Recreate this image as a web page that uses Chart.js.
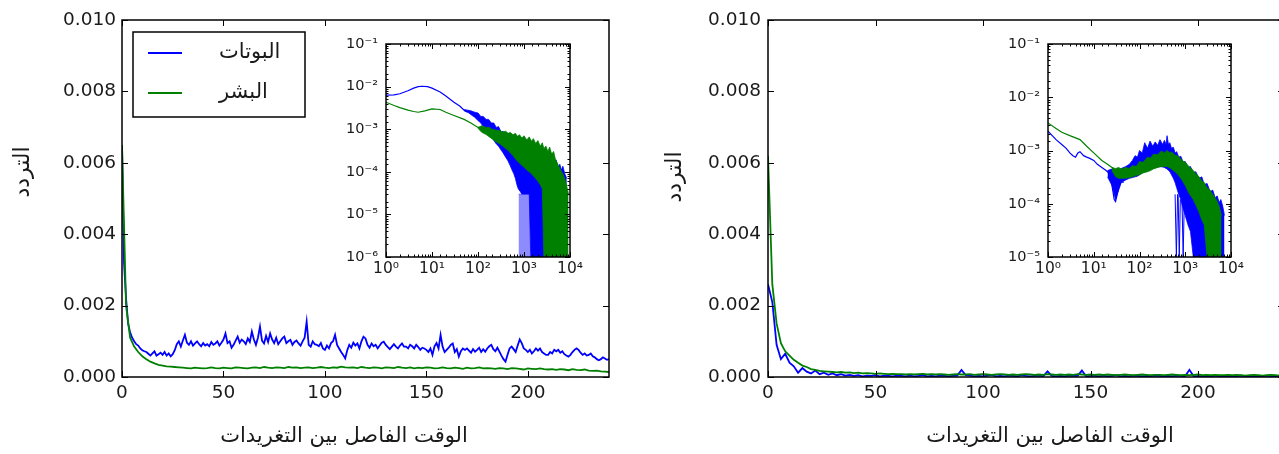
<!DOCTYPE html>
<html>
<head>
<meta charset="utf-8">
<script src="https://cdn.jsdelivr.net/npm/chart.js@4.4.1/dist/chart.umd.min.js"></script>
<style>
  body { margin: 0; background: #fff; overflow: hidden; }
  #wrap { position: relative; width: 1279px; height: 454px; overflow: hidden; }
  canvas { position: absolute; }
</style>
</head>
<body>
<div id="wrap">
  <canvas id="mainLeft" width="640" height="454" style="left:0;top:0"></canvas>
  <canvas id="mainRight" width="660" height="454" style="left:640px;top:0"></canvas>
  <canvas id="insetLeft" width="260" height="270" style="left:330px;top:20px"></canvas>
  <canvas id="insetRight" width="260" height="270" style="left:990px;top:20px"></canvas>
</div>
<script>
// labels
const botsLabel = 'البوتات';
const humansLabel = 'البشر';
const xTitle = 'الوقت الفاصل بين التغريدات';
const yTitle = 'التردد';

// main panels: frequency per bin (bin width 1 for left bots, 2 for the rest)
const leftBots = [
  0.0065, 0.0032, 0.0022, 0.0015, 0.00125, 0.0011, 0.001, 0.00092, 0.00088, 0.0008,
  0.00075, 0.00072, 0.0007, 0.00065, 0.0006, 0.00066, 0.00072, 0.0006, 0.00064, 0.00068,
  0.00062, 0.0007, 0.0006, 0.00066, 0.00058, 0.00064, 0.00075, 0.00092, 0.001, 0.00085,
  0.00102, 0.00118, 0.00096, 0.0009, 0.001, 0.00088, 0.00094, 0.001, 0.00092, 0.00086,
  0.00095, 0.00088, 0.00092, 0.00086, 0.00098, 0.0009, 0.00094, 0.001, 0.00088, 0.00096,
  0.00105, 0.00122, 0.00095, 0.001, 0.00082, 0.0009, 0.00102, 0.00113, 0.00096, 0.00105,
  0.001, 0.00092, 0.00108, 0.00098, 0.00127, 0.00105, 0.0009, 0.0011, 0.00141, 0.00102,
  0.00094, 0.00115, 0.00098, 0.00122, 0.00105, 0.00095, 0.0011, 0.00092, 0.001, 0.00108,
  0.00113, 0.00095, 0.001, 0.00104, 0.0009, 0.00098, 0.00102, 0.00094, 0.00088, 0.001,
  0.0011, 0.00155, 0.0009, 0.00085, 0.001, 0.00092, 0.0009, 0.00086, 0.00095, 0.0008,
  0.00076, 0.00088, 0.0008, 0.00095, 0.001, 0.00118, 0.0009, 0.0008, 0.0007, 0.00062,
  0.00052, 0.00075, 0.0009, 0.00082, 0.00096, 0.00088, 0.00094, 0.0008, 0.001, 0.00113,
  0.00108, 0.0009, 0.00082, 0.00094, 0.00086, 0.0009, 0.0008, 0.00088, 0.00096, 0.00099,
  0.0009, 0.00084, 0.00078, 0.00085, 0.00092, 0.00085, 0.0008, 0.00088, 0.00094, 0.00085,
  0.00085, 0.0008, 0.0009, 0.00086, 0.0008, 0.0009, 0.00084, 0.00076, 0.00082, 0.0008,
  0.00076, 0.0007, 0.0008, 0.00062, 0.00086, 0.00095, 0.0008, 0.00118, 0.00085, 0.0007,
  0.00076, 0.00082, 0.0009, 0.00094, 0.0007, 0.00078, 0.00057, 0.00072, 0.0008, 0.00076,
  0.0008, 0.00074, 0.00068, 0.00078, 0.00071, 0.00076, 0.00082, 0.0007, 0.00078, 0.00071,
  0.0008, 0.00086, 0.0009, 0.00078, 0.00072, 0.00082, 0.00071, 0.0006, 0.0005, 0.00043,
  0.00062, 0.0008, 0.00085, 0.00078, 0.0007, 0.00088, 0.00105, 0.00095, 0.0008, 0.00076,
  0.0007, 0.00076, 0.00066, 0.00072, 0.0008, 0.00074, 0.0008, 0.0007, 0.00066, 0.00062,
  0.00062, 0.0007, 0.00066, 0.00076, 0.00072, 0.00076, 0.00068, 0.00072, 0.00064, 0.0006,
  0.00057, 0.00062, 0.0007, 0.00076, 0.0008, 0.00076, 0.00068, 0.00062, 0.00066, 0.0006,
  0.00062, 0.00066, 0.00058, 0.00055, 0.0005, 0.00047, 0.0005, 0.00055, 0.00052, 0.00048,
  0.0005
];
const leftHumans = [
  0.0065, 0.002, 0.0011, 0.00085, 0.0007, 0.00058, 0.0005, 0.00043, 0.00038, 0.00034, 0.00032, 0.0003, 0.00029, 0.00028, 0.00027, 0.00026,
  0.00025, 0.00024, 0.00026, 0.00025, 0.00024, 0.00025, 0.00027, 0.00025, 0.00024, 0.00026, 0.00025, 0.00024, 0.00027, 0.00026, 0.00025,
  0.00024, 0.00026, 0.00027, 0.00025, 0.00028, 0.00026, 0.00025, 0.00027, 0.00026, 0.00025, 0.00028, 0.00026, 0.00027, 0.00025, 0.00026,
  0.00027, 0.00025, 0.00026, 0.00028, 0.00026, 0.00025, 0.00027, 0.00026, 0.00029, 0.00027, 0.00026, 0.00027, 0.00025, 0.00028, 0.00026,
  0.00025, 0.00027, 0.00026, 0.00024, 0.00027, 0.00026, 0.00025, 0.00028, 0.00026, 0.00025, 0.00027, 0.00024, 0.00026, 0.00025, 0.00027,
  0.00026, 0.00024, 0.00025, 0.00027, 0.00025, 0.00024, 0.00026, 0.00025, 0.00023, 0.00026, 0.00024, 0.00025, 0.00027, 0.00024, 0.00025,
  0.00024, 0.00023, 0.00025, 0.00024, 0.00022, 0.00025, 0.00024, 0.00023, 0.00021, 0.00024, 0.00023, 0.00022, 0.00024, 0.00022, 0.00021,
  0.00022, 0.0002, 0.00022, 0.00021, 0.00019, 0.00022, 0.0002, 0.00019, 0.00021, 0.00018, 0.00017, 0.00018, 0.00016, 0.00015, 0.00014
];
const rightBots = [
  0.0026, 0.0021, 0.0009, 0.0005, 0.00065, 0.0004, 0.0003, 0.00012, 0.00025, 0.00015, 0.0001, 0.00018, 0.00008, 0.00012, 0.00006, 0.0001,
  0.00005, 0.00008, 0.00004, 0.00006, 0.00003, 0.00005, 0.00002, 0.00004, 0.00003, 0.00005, 0.00002, 0.00004, 0.00003, 0.00002, 0.00004,
  0.00003, 0.00002, 0.00004, 0.00002, 0.00003, 0.00005, 0.00002, 0.00003, 0.00002, 0.00004, 0.00003, 0.00002, 0.00003, 0.00004, 0.0002,
  0.00005, 0.00004, 0.00002, 0.00003, 0.00002, 0.00004, 0.00006, 0.00002, 0.00003, 0.00002, 0.00004, 0.00003, 0.00002, 0.00005, 0.00003,
  0.00002, 0.00003, 0.00004, 0.00002, 0.00016, 0.00003, 0.00002, 0.00003, 0.00002, 0.00004, 0.00003, 0.00003, 0.00018, 0.00002, 0.00003,
  0.00003, 0.00002, 0.00004, 0.00002, 0.00003, 0.00005, 0.00002, 0.00003, 0.00002, 0.00004, 0.00003, 0.00002, 0.00003, 0.00002, 0.00004,
  0.00003, 0.00002, 0.00003, 0.00002, 0.00004, 0.00003, 0.00002, 0.0002, 0.00002, 0.00003, 0.00002, 0.00003, 0.00002, 0.00004, 0.00002,
  0.00003, 0.00002, 0.00003, 0.00002, 0.00004, 0.00002, 0.00003, 0.00002, 0.00003, 0.00002, 0.00004, 0.00002, 0.00003, 0.00002, 0.00003
];
const rightHumans = [
  0.0062, 0.0026, 0.0015, 0.00095, 0.00072, 0.0006, 0.00048, 0.0004, 0.00032, 0.00028, 0.00022, 0.0002, 0.00017, 0.00016, 0.00015, 0.00014,
  0.00013, 0.00014, 0.00012, 0.00013, 0.00011, 0.00012, 0.0001, 0.00011, 0.0001, 0.00009, 0.0001, 0.00009, 0.00008, 0.00009, 0.00008,
  0.00008, 0.00007, 0.00008, 0.00007, 0.00008, 0.00009, 0.00007, 0.00008, 0.00007, 0.00008, 0.00007, 0.00006, 0.00007, 0.00008, 0.00007,
  0.00007, 0.00008, 0.00006, 0.00007, 0.00008, 0.00007, 0.00006, 0.00007, 0.00008, 0.00007, 0.00006, 0.00007, 0.00006, 0.00007, 0.00008,
  0.00007, 0.00006, 0.00007, 0.00006, 0.00008, 0.00007, 0.00006, 0.00007, 0.00006, 0.00007, 0.00006, 0.00008, 0.00007, 0.00006, 0.00007,
  0.00006, 0.00007, 0.00006, 0.00007, 0.00006, 0.00005, 0.00006, 0.00007, 0.00006, 0.00005, 0.00006, 0.00007, 0.00006, 0.00005, 0.00006,
  0.00006, 0.00005, 0.00006, 0.00007, 0.00006, 0.00005, 0.00006, 0.00005, 0.00006, 0.00007, 0.00005, 0.00006, 0.00005, 0.00006, 0.00005,
  0.00005, 0.00006, 0.00005, 0.00006, 0.00005, 0.00004, 0.00005, 0.00006, 0.00005, 0.00004, 0.00005, 0.00006, 0.00005, 0.00004, 0.00005
];

// left inset (log-log): thin line at short gaps, noisy band further out
const insetLeftBotsLineX = [1, 1.5, 2, 3, 4, 5, 6, 8, 10, 15, 20, 30, 40, 50, 60];
const insetLeftBotsLineY = [6.3e-3, 6.4e-3, 6.8e-3, 8e-3, 9.2e-3, 1e-2, 1.02e-2, 1e-2, 9.2e-3, 7.5e-3, 6e-3, 4.3e-3, 3.5e-3, 2.8e-3, 2.5e-3];
const insetLeftBotsBandX = [50, 60, 70, 85, 100, 115, 130, 150, 170, 195, 220, 250, 280, 320, 350, 400, 450, 500, 550, 600, 650, 700, 750, 820, 900, 1000, 1100, 1200, 1300, 1400, 1600, 1800, 2000, 2300, 2600, 2900, 3200, 3600, 4000, 4400, 5000, 5500, 6000, 6500, 7000, 7700, 8500];
const insetLeftBotsBandHigh = [2.9e-3, 2.8e-3, 2.7e-3, 2.5e-3, 2.4e-3, 2e-3, 2e-3, 1.7e-3, 1.7e-3, 1.4e-3, 1.4e-3, 1.1e-3, 1.15e-3, 8.5e-4, 9e-4, 6.5e-4, 7e-4, 5e-4, 5.5e-4, 4e-4, 4.8e-4, 3.6e-4, 4.2e-4, 3.2e-4, 3.6e-4, 2.8e-4, 3.2e-4, 2.5e-4, 2.9e-4, 2.3e-4, 2.5e-4, 1.9e-4, 2.2e-4, 1.6e-4, 1.9e-4, 1.4e-4, 1.8e-4, 2.3e-4, 1.3e-4, 1.7e-4, 1.9e-4, 1.2e-4, 1.5e-4, 1.1e-4, 1.35e-4, 9e-5, 7e-5];
const insetLeftBotsBandLow = [2.7e-3, 2.5e-3, 2.2e-3, 1.9e-3, 1.6e-3, 1.4e-3, 1.15e-3, 1e-3, 8.5e-4, 7e-4, 5.5e-4, 4.5e-4, 4e-4, 3.2e-4, 2.8e-4, 2.2e-4, 1.8e-4, 1.4e-4, 1.1e-4, 9e-5, 7e-5, 5e-5, 4e-5, 3.5e-5, 3e-5, 3e-5, 3e-5, 3e-5, 3e-5, 1e-6, 1e-6, 1e-6, 1e-6, 1e-6, 1e-6, 1e-6, 1e-6, 1e-6, 1e-6, 1e-6, 1e-6, 1e-6, 1e-6, 1e-6, 1e-6, 1e-6, 1e-6];
const insetLeftBotsSparseX = [760, 1380];
const insetLeftBotsSparseHigh = [3e-5, 3e-5];
const insetLeftHumansLineX = [1, 1.5, 2, 3, 4, 5, 7, 10, 15, 20, 30, 50, 70, 100, 150];
const insetLeftHumansLineY = [4.3e-3, 3.6e-3, 3.2e-3, 2.8e-3, 2.6e-3, 2.5e-3, 2.7e-3, 3e-3, 2.9e-3, 2.5e-3, 2.1e-3, 1.7e-3, 1.4e-3, 1.1e-3, 1e-3];
const insetLeftHumansBandX = [100, 120, 150, 180, 200, 250, 300, 350, 400, 450, 500, 580, 650, 720, 800, 900, 1000, 1150, 1300, 1450, 1600, 1800, 2000, 2250, 2500, 2700, 3000, 3300, 3600, 4000, 4400, 4800, 5300, 6000, 6600, 7300, 8000, 9300];
const insetLeftHumansBandHigh = [1.1e-3, 1.2e-3, 1.1e-3, 1.1e-3, 1e-3, 9.5e-4, 9.2e-4, 8.6e-4, 9e-4, 8e-4, 8.4e-4, 7.4e-4, 8e-4, 6.8e-4, 7.4e-4, 6.2e-4, 7e-4, 5.6e-4, 6.6e-4, 5.2e-4, 6e-4, 4.6e-4, 5.4e-4, 4e-4, 4.8e-4, 3.5e-4, 4e-4, 3e-4, 3.8e-4, 2.6e-4, 3e-4, 2e-4, 1.6e-4, 1.2e-4, 1e-4, 8e-5, 6e-5, 3e-5];
const insetLeftHumansBandLow = [1.05e-3, 8.5e-4, 7.5e-4, 6.5e-4, 6e-4, 5e-4, 4.5e-4, 4e-4, 3.5e-4, 3.2e-4, 2.8e-4, 2.4e-4, 2e-4, 1.8e-4, 1.6e-4, 1.4e-4, 1.3e-4, 1.1e-4, 1e-4, 9e-5, 8e-5, 7e-5, 6e-5, 5e-5, 4e-5, 1e-6, 1e-6, 1e-6, 1e-6, 1e-6, 1e-6, 1e-6, 1e-6, 1e-6, 1e-6, 1e-6, 1e-6, 1e-6];

// right inset (log-log)
const insetRightBotsLineX = [1, 1.5, 2, 2.5, 3, 3.5, 4, 4.5, 5, 6, 7, 8, 10, 12, 15, 18, 20, 22, 24, 26, 28, 30, 33, 36, 40, 45];
const insetRightBotsLineY = [2.3e-3, 1.6e-3, 1.3e-3, 1.1e-3, 9e-4, 8e-4, 7.5e-4, 9e-4, 9.5e-4, 8e-4, 7.5e-4, 7.2e-4, 6.5e-4, 5.5e-4, 4.8e-4, 4.3e-4, 4e-4, 3.5e-4, 2.8e-4, 1.8e-4, 1.2e-4, 1.1e-4, 1.6e-4, 2.2e-4, 2.6e-4, 2.5e-4];
const insetRightBotsBandX = [20, 25, 30, 35, 40, 50, 60, 70, 80, 90, 100, 115, 130, 150, 170, 195, 220, 250, 280, 320, 350, 380, 400, 430, 460, 500, 550, 600, 650, 720, 800, 900, 1000, 1150, 1300, 1500, 1700, 2000, 2300, 2600, 3000, 3500, 4000, 4500, 5000, 5500, 6000, 6600, 7200];
const insetRightBotsBandHigh = [4.2e-4, 4.5e-4, 3.5e-4, 4.2e-4, 4.6e-4, 5e-4, 5.5e-4, 6.5e-4, 8e-4, 7.5e-4, 1e-3, 9e-4, 1.4e-3, 1.1e-3, 1.5e-3, 1.2e-3, 1.45e-3, 1.25e-3, 1.6e-3, 1.3e-3, 1.55e-3, 1.3e-3, 1.9e-3, 1.3e-3, 1.4e-3, 1.1e-3, 1.15e-3, 9e-4, 9.5e-4, 7.5e-4, 7.8e-4, 6e-4, 6.2e-4, 4.8e-4, 5e-4, 3.8e-4, 4e-4, 3e-4, 3.2e-4, 2.3e-4, 2.4e-4, 1.7e-4, 1.8e-4, 1.3e-4, 1.4e-4, 1.05e-4, 1.2e-4, 9e-5, 6e-5];
const insetRightBotsBandLow = [3.2e-4, 2.2e-4, 1.2e-4, 1.8e-4, 2.5e-4, 2.8e-4, 3e-4, 3.1e-4, 3.2e-4, 3.3e-4, 3.5e-4, 3.8e-4, 4e-4, 4.3e-4, 4.5e-4, 4.7e-4, 4.8e-4, 4.9e-4, 5e-4, 4.9e-4, 4.8e-4, 4.6e-4, 4.5e-4, 4.2e-4, 4e-4, 3.5e-4, 3e-4, 2.5e-4, 2e-4, 1.5e-4, 1.2e-4, 8e-5, 6e-5, 4e-5, 3e-5, 1e-5, 1e-5, 1e-5, 1e-5, 1e-5, 1e-5, 1e-5, 1e-5, 1e-5, 1e-5, 1e-5, 1e-5, 1e-5, 1e-5];
const insetRightBotsDropX = [600, 640, 680, 700, 740, 780, 850, 900, 950];
const insetRightBotsDropY = [1.5e-4, 1e-5, 1.5e-4, 1.4e-4, 1e-5, 1.2e-4, 1.1e-4, 1e-5, 1e-4];
const insetRightHumansLineX = [1, 1.5, 2, 3, 5, 7, 10, 15, 20, 25, 30];
const insetRightHumansLineY = [3.3e-3, 2.6e-3, 2.2e-3, 1.9e-3, 1.6e-3, 1.2e-3, 9e-4, 6.5e-4, 5.5e-4, 4.8e-4, 4.2e-4];
const insetRightHumansBandX = [25, 30, 35, 40, 50, 60, 70, 85, 100, 120, 150, 175, 200, 250, 300, 350, 400, 450, 500, 600, 700, 850, 1000, 1200, 1500, 1750, 2000, 2300, 2600, 3000, 3500, 4000, 4500, 5000, 5500, 6200];
const insetRightHumansBandHigh = [4.8e-4, 4.6e-4, 4.8e-4, 4.5e-4, 4.8e-4, 4.6e-4, 5.2e-4, 5e-4, 6.2e-4, 6e-4, 7.5e-4, 7.2e-4, 8.5e-4, 8.3e-4, 9.8e-4, 9e-4, 1e-3, 9.2e-4, 9.4e-4, 8.2e-4, 7.8e-4, 6.5e-4, 6e-4, 5e-4, 4.2e-4, 3.6e-4, 3.2e-4, 2.7e-4, 2.5e-4, 2e-4, 1.8e-4, 1.5e-4, 1.3e-4, 1.1e-4, 9e-5, 6e-5];
const insetRightHumansBandLow = [4.2e-4, 3.2e-4, 3e-4, 3e-4, 3e-4, 3.1e-4, 3.2e-4, 3.4e-4, 3.5e-4, 3.8e-4, 4e-4, 4.2e-4, 4.5e-4, 4.8e-4, 5e-4, 5e-4, 5e-4, 4.8e-4, 4.5e-4, 4e-4, 3.5e-4, 2.8e-4, 2.2e-4, 1.6e-4, 1.2e-4, 9e-5, 7e-5, 5e-5, 4e-5, 1e-5, 1e-5, 1e-5, 1e-5, 1e-5, 1e-5, 1e-5];

const BLUE = '#0000ff';
const GREEN = '#008000';
const LIGHT_BLUE = 'rgba(0,0,255,0.45)';
const TEXT = '#1a1a1a';

const byStep = (ys, step) => ys.map((y, i) => ({ x: i * step, y }));
const zip = (xs, ys) => xs.map((x, i) => ({ x, y: ys[i] }));

const sup = { '-': '\u207B', '0': '\u2070', '1': '\u00B9', '2': '\u00B2', '3': '\u00B3', '4': '\u2074', '5': '\u2075', '6': '\u2076' };
function powerLabel(v) {
    const e = Math.round(Math.log10(v));
    if (Math.abs(Math.log10(v) - e) > 1e-6) return '';
    return '10' + String(e).split('').map(c => sup[c]).join('');
}

// spines on all four sides plus inward ticks
const frame = {
    id: 'frame',
    afterDatasetsDraw(chart, args, opts) {
        const { ctx, chartArea: a } = chart;
        const { x, y } = chart.scales;
        ctx.save();
        ctx.strokeStyle = '#000';
        ctx.lineWidth = 1;
        const mark = (x1, y1, x2, y2) => { ctx.beginPath(); ctx.moveTo(x1, y1); ctx.lineTo(x2, y2); ctx.stroke(); };
        x.ticks.forEach(t => {
            const px = Math.round(x.getPixelForValue(t.value)) + 0.5;
            const len = t.label ? opts.major : opts.minor;
            mark(px, a.bottom, px, a.bottom - len);
            mark(px, a.top, px, a.top + len);
        });
        y.ticks.forEach(t => {
            const py = Math.round(y.getPixelForValue(t.value)) + 0.5;
            const len = t.label ? opts.major : opts.minor;
            mark(a.left, py, a.left + len, py);
            mark(a.right, py, a.right - len, py);
        });
        ctx.lineWidth = opts.border;
        ctx.strokeRect(a.left, a.top, a.right - a.left, a.bottom - a.top);
        ctx.restore();
    }
};

// axis titles placed where the original figure has them
const axisLabels = {
    id: 'axisLabels',
    afterDraw(chart, args, opts) {
        const { ctx } = chart;
        ctx.save();
        ctx.fillStyle = TEXT;
        ctx.textAlign = 'center';
        ctx.textBaseline = 'middle';
        ctx.font = opts.xFont;
        ctx.fillText(opts.x.text, opts.x.cx, opts.x.cy);
        ctx.font = opts.yFont;
        ctx.translate(opts.y.cx, opts.y.cy);
        ctx.rotate(-Math.PI / 2);
        ctx.fillText(opts.y.text, 0, 0);
        ctx.restore();
    }
};

// matplotlib style boxed legend inside the plot
const boxLegend = {
    id: 'boxLegend',
    afterDraw(chart, args, opts) {
        const { ctx } = chart;
        ctx.save();
        ctx.fillStyle = '#fff';
        ctx.fillRect(opts.left, opts.top, opts.width, opts.height);
        ctx.strokeStyle = '#000';
        ctx.lineWidth = 1.5;
        ctx.strokeRect(opts.left, opts.top, opts.width, opts.height);
        ctx.font = opts.font;
        ctx.textBaseline = 'middle';
        ctx.textAlign = 'left';
        opts.items.forEach((idx, row) => {
            const ds = chart.data.datasets[idx];
            const yy = opts.top + opts.firstRow + row * opts.rowGap;
            ctx.strokeStyle = ds.borderColor;
            ctx.lineWidth = 2;
            ctx.beginPath();
            ctx.moveTo(opts.left + opts.lineFrom, yy);
            ctx.lineTo(opts.left + opts.lineTo, yy);
            ctx.stroke();
            ctx.fillStyle = TEXT;
            ctx.fillText(ds.label, opts.left + opts.textX, yy);
        });
        ctx.restore();
    }
};

const tickFont = { family: 'DejaVu Sans', size: 18.5 };

function mainChart(id, datasets, o) {
    return new Chart(document.getElementById(id), {
        type: 'line',
        data: { datasets },
        options: {
            responsive: false,
            animation: false,
            layout: { padding: { top: 20, right: o.padRight, left: 0, bottom: 0 } },
            elements: { point: { radius: 0 }, line: { tension: 0, borderWidth: 1.8 } },
            plugins: {
                legend: { display: false },
                tooltip: { enabled: false },
                frame: { major: 6, minor: 3, border: 1.5 },
                axisLabels: {
                    xFont: '21px "DejaVu Sans"', yFont: '22px "DejaVu Sans"',
                    x: { text: xTitle, cx: o.xTitleX, cy: 437 },
                    y: { text: yTitle, cx: o.yTitleX, cy: o.yTitleY }
                },
                boxLegend: o.legend || false
            },
            scales: {
                x: {
                    type: 'linear', min: 0, max: 240,
                    afterFit: s => { s.height = 77; },
                    border: { display: false },
                    grid: { display: false, drawTicks: false },
                    ticks: { stepSize: 50, includeBounds: false, padding: 5, maxRotation: 0, font: tickFont, color: TEXT }
                },
                y: {
                    type: 'linear', min: 0, max: 0.01,
                    afterFit: s => { s.width = o.yWidth; },
                    border: { display: false },
                    grid: { display: false, drawTicks: false },
                    ticks: { stepSize: 0.002, includeBounds: false, padding: o.yPad, font: tickFont, color: TEXT, callback: v => v.toFixed(3) }
                }
            }
        },
        plugins: [frame, axisLabels, boxLegend]
    });
}

function insetChart(id, datasets, o) {
    return new Chart(document.getElementById(id), {
        type: 'line',
        data: { datasets },
        options: {
            responsive: false,
            animation: false,
            layout: { padding: { top: 24, right: o.padRight, left: 0, bottom: 0 } },
            elements: { point: { radius: 0 }, line: { tension: 0, borderWidth: 1.2 } },
            plugins: {
                legend: { display: false },
                tooltip: { enabled: false },
                frame: { major: 5, minor: 2.5, border: 1.5 }
            },
            scales: {
                x: {
                    type: 'logarithmic', min: 1, max: 1e4,
                    afterFit: s => { s.height = 33; },
                    border: { display: false },
                    grid: { display: false, drawTicks: false },
                    ticks: { autoSkip: false, padding: 3, maxRotation: 0, font: { family: 'DejaVu Sans', size: 15.5 }, color: TEXT, callback: powerLabel }
                },
                y: {
                    type: 'logarithmic', min: o.yMin, max: 0.1,
                    afterFit: s => { s.width = o.yWidth; },
                    border: { display: false },
                    grid: { display: false, drawTicks: false },
                    ticks: { autoSkip: false, padding: 8, font: { family: 'DejaVu Sans', size: 14.5 }, color: TEXT, callback: powerLabel }
                }
            }
        },
        plugins: [frame]
    });
}

// index 0 draws on top, so humans (green) come first like the original
function insetSets(h, b, extra) {
    return [
        { data: zip(h.lineX, h.lineY), borderColor: GREEN },
        { data: zip(h.bandX, h.bandLow), borderColor: GREEN, borderWidth: 0.8 },
        { data: zip(h.bandX, h.bandHigh), borderColor: GREEN, borderWidth: 0.8, backgroundColor: GREEN, fill: '-1' },
        { data: zip(b.lineX, b.lineY), borderColor: BLUE },
        { data: zip(b.bandX, b.bandLow), borderColor: BLUE, borderWidth: 0.8 },
        { data: zip(b.bandX, b.bandHigh), borderColor: BLUE, borderWidth: 0.8, backgroundColor: BLUE, fill: '-1' },
        extra
    ];
}

mainChart('mainLeft', [
    { label: humansLabel, data: byStep(leftHumans, 2), borderColor: GREEN },
    { label: botsLabel, data: byStep(leftBots, 1), borderColor: BLUE }
], {
    padRight: 31, yWidth: 122, yPad: 6, xTitleX: 344, yTitleX: 23, yTitleY: 172,
    legend: { left: 133, top: 32, width: 172, height: 85, firstRow: 21, rowGap: 40, lineFrom: 15, lineTo: 49, textX: 86, items: [1, 0], font: '21px "DejaVu Sans"' }
});

mainChart('mainRight', [
    { label: humansLabel, data: byStep(rightHumans, 2), borderColor: GREEN },
    { label: botsLabel, data: byStep(rightBots, 2), borderColor: BLUE }
], { padRight: 16, yWidth: 128, yPad: 7, xTitleX: 410, yTitleX: 35, yTitleY: 177 });

insetChart('insetLeft', insetSets(
    { lineX: insetLeftHumansLineX, lineY: insetLeftHumansLineY, bandX: insetLeftHumansBandX, bandHigh: insetLeftHumansBandHigh, bandLow: insetLeftHumansBandLow },
    { lineX: insetLeftBotsLineX, lineY: insetLeftBotsLineY, bandX: insetLeftBotsBandX, bandHigh: insetLeftBotsBandHigh, bandLow: insetLeftBotsBandLow },
    { data: zip(insetLeftBotsSparseX, insetLeftBotsSparseHigh), borderColor: LIGHT_BLUE, borderWidth: 0.8, backgroundColor: LIGHT_BLUE, fill: 'start' }
), { padRight: 20, yWidth: 56, yMin: 1e-6 });

insetChart('insetRight', insetSets(
    { lineX: insetRightHumansLineX, lineY: insetRightHumansLineY, bandX: insetRightHumansBandX, bandHigh: insetRightHumansBandHigh, bandLow: insetRightHumansBandLow },
    { lineX: insetRightBotsLineX, lineY: insetRightBotsLineY, bandX: insetRightBotsBandX, bandHigh: insetRightBotsBandHigh, bandLow: insetRightBotsBandLow },
    { data: zip(insetRightBotsDropX, insetRightBotsDropY), borderColor: BLUE, borderWidth: 1 }
), { padRight: 19, yWidth: 58, yMin: 1e-5 });
</script>
</body>
</html>
